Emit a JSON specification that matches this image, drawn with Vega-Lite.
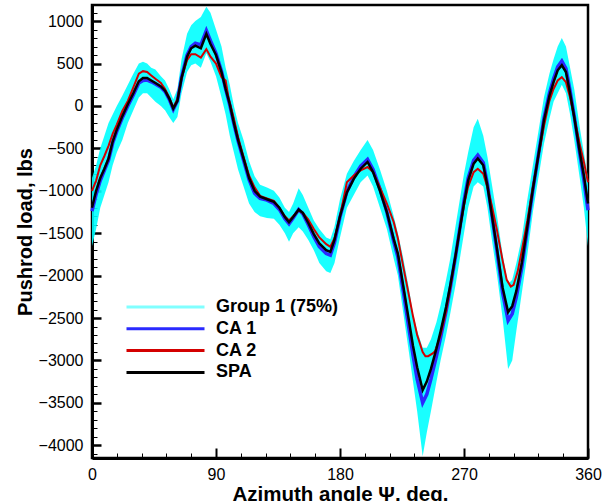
{
  "$schema": "https://vega.github.io/schema/vega-lite/v6.json",
  "width": 496,
  "height": 453,
  "autosize": {"type": "none"},
  "padding": {"left": 92, "top": 5, "right": 26, "bottom": 43},
  "background": "white",
  "config": {
    "font": "Liberation Sans",
    "view": {"stroke": "black", "strokeWidth": 2.5},
    "axis": {
      "labelFont": "Liberation Sans", "labelFontSize": 16, "labelColor": "black",
      "titleFont": "Liberation Sans", "titleFontWeight": "bold", "titleColor": "black",
      "domainColor": "black", "domainWidth": 3, "tickColor": "black", "grid": false,
      "labelOverlap": false, "labelFlush": false, "zindex": 1
    },
    "legend": {
      "orient": "none", "legendX": 33, "legendY": 294, "title": null,
      "labelFont": "Liberation Sans", "labelFontSize": 18, "labelFontWeight": "bold", "labelColor": "black",
      "symbolType": "stroke", "symbolSize": 6084, "symbolStrokeWidth": 3,
      "clipHeight": 16, "rowPadding": 3.8, "labelOffset": 10, "padding": 0
    }
  },
  "datasets": {
    "band": [
      {"deg":0,"hi":-850,"lo":-1650},{"deg":3,"hi":-700,"lo":-1450},{"deg":6,"hi":-500,"lo":-1200},{"deg":9,"hi":-350,"lo":-1050},
      {"deg":12,"hi":-200,"lo":-900},{"deg":15,"hi":-100,"lo":-700},{"deg":18,"hi":0,"lo":-550},{"deg":22,"hi":120,"lo":-400},
      {"deg":26,"hi":250,"lo":-200},{"deg":30,"hi":380,"lo":-50},{"deg":34,"hi":500,"lo":100},{"deg":37,"hi":520,"lo":150},
      {"deg":40,"hi":500,"lo":150},{"deg":43,"hi":450,"lo":100},{"deg":46,"hi":430,"lo":50},{"deg":50,"hi":350,"lo":0},
      {"deg":53,"hi":300,"lo":-50},{"deg":56,"hi":200,"lo":-130},{"deg":59,"hi":80,"lo":-200},{"deg":62,"hi":200,"lo":-130},
      {"deg":65,"hi":550,"lo":150},{"deg":69,"hi":850,"lo":400},{"deg":72,"hi":950,"lo":480},{"deg":75,"hi":1000,"lo":500},
      {"deg":79,"hi":1050,"lo":450},{"deg":83,"hi":1170,"lo":620},{"deg":86,"hi":1100,"lo":520},{"deg":90,"hi":900,"lo":350},
      {"deg":94,"hi":700,"lo":100},{"deg":97,"hi":450,"lo":-100},{"deg":100,"hi":250,"lo":-350},{"deg":103,"hi":0,"lo":-550},
      {"deg":106,"hi":-200,"lo":-750},{"deg":110,"hi":-400,"lo":-950},{"deg":114,"hi":-650,"lo":-1150},{"deg":118,"hi":-830,"lo":-1250},
      {"deg":122,"hi":-930,"lo":-1300},{"deg":127,"hi":-960,"lo":-1320},{"deg":132,"hi":-1000,"lo":-1330},{"deg":136,"hi":-1080,"lo":-1400},
      {"deg":140,"hi":-1200,"lo":-1500},{"deg":143,"hi":-1250,"lo":-1600},{"deg":146,"hi":-1150,"lo":-1500},{"deg":150,"hi":-970,"lo":-1430},
      {"deg":153,"hi":-1050,"lo":-1480},{"deg":157,"hi":-1200,"lo":-1580},{"deg":161,"hi":-1350,"lo":-1700},{"deg":165,"hi":-1450,"lo":-1850},
      {"deg":170,"hi":-1550,"lo":-1950},{"deg":173,"hi":-1570,"lo":-1970},{"deg":176,"hi":-1420,"lo":-1850},{"deg":180,"hi":-1100,"lo":-1550},
      {"deg":185,"hi":-800,"lo":-1200},{"deg":190,"hi":-650,"lo":-1050},{"deg":195,"hi":-520,"lo":-900},{"deg":200,"hi":-400,"lo":-820},
      {"deg":204,"hi":-520,"lo":-950},{"deg":209,"hi":-750,"lo":-1200},{"deg":214,"hi":-1000,"lo":-1450},{"deg":219,"hi":-1300,"lo":-1800},
      {"deg":222,"hi":-1500,"lo":-2000},{"deg":226,"hi":-1800,"lo":-2450},{"deg":230,"hi":-2150,"lo":-2900},{"deg":233,"hi":-2450,"lo":-3250},
      {"deg":236,"hi":-2650,"lo":-3600},{"deg":240,"hi":-2850,"lo":-4130},{"deg":243,"hi":-2850,"lo":-3850},{"deg":246,"hi":-2750,"lo":-3600},
      {"deg":250,"hi":-2550,"lo":-3250},{"deg":253,"hi":-2350,"lo":-3000},{"deg":257,"hi":-2050,"lo":-2700},{"deg":260,"hi":-1800,"lo":-2450},
      {"deg":264,"hi":-1400,"lo":-2100},{"deg":267,"hi":-1100,"lo":-1800},{"deg":270,"hi":-800,"lo":-1500},{"deg":273,"hi":-550,"lo":-1200},
      {"deg":277,"hi":-250,"lo":-950},{"deg":280,"hi":-150,"lo":-900},{"deg":284,"hi":-350,"lo":-950},{"deg":287,"hi":-600,"lo":-1200},
      {"deg":290,"hi":-900,"lo":-1550},{"deg":294,"hi":-1300,"lo":-2000},{"deg":298,"hi":-1750,"lo":-2500},{"deg":302,"hi":-2100,"lo":-3100},
      {"deg":305,"hi":-2050,"lo":-3000},{"deg":308,"hi":-1850,"lo":-2650},{"deg":312,"hi":-1550,"lo":-2200},{"deg":316,"hi":-1100,"lo":-1750},
      {"deg":320,"hi":-700,"lo":-1250},{"deg":323,"hi":-400,"lo":-950},{"deg":326,"hi":-100,"lo":-650},{"deg":328,"hi":100,"lo":-450},
      {"deg":332,"hi":380,"lo":-150},{"deg":335,"hi":550,"lo":50},{"deg":338,"hi":700,"lo":150},{"deg":341,"hi":800,"lo":250},
      {"deg":344,"hi":700,"lo":150},{"deg":347,"hi":450,"lo":-100},{"deg":350,"hi":200,"lo":-400},{"deg":354,"hi":-250,"lo":-850},
      {"deg":357,"hi":-550,"lo":-1200},{"deg":360,"hi":-850,"lo":-1650}
    ],
    "curves": [
      {"series":"CA 1","deg":0,"load":-1240},{"series":"CA 1","deg":3,"load":-1040},{"series":"CA 1","deg":6,"load":-880},{"series":"CA 1","deg":9,"load":-760},
      {"series":"CA 1","deg":12,"load":-640},{"series":"CA 1","deg":15,"load":-440},{"series":"CA 1","deg":18,"load":-300},{"series":"CA 1","deg":22,"load":-140},
      {"series":"CA 1","deg":26,"load":0},{"series":"CA 1","deg":30,"load":130},{"series":"CA 1","deg":34,"load":270},{"series":"CA 1","deg":37,"load":300},
      {"series":"CA 1","deg":40,"load":305},{"series":"CA 1","deg":43,"load":285},{"series":"CA 1","deg":46,"load":260},{"series":"CA 1","deg":50,"load":220},
      {"series":"CA 1","deg":53,"load":170},{"series":"CA 1","deg":56,"load":80},{"series":"CA 1","deg":59,"load":-40},{"series":"CA 1","deg":62,"load":60},
      {"series":"CA 1","deg":65,"load":340},{"series":"CA 1","deg":69,"load":600},{"series":"CA 1","deg":72,"load":700},{"series":"CA 1","deg":75,"load":740},
      {"series":"CA 1","deg":79,"load":720},{"series":"CA 1","deg":83,"load":890},{"series":"CA 1","deg":86,"load":770},{"series":"CA 1","deg":90,"load":620},
      {"series":"CA 1","deg":94,"load":410},{"series":"CA 1","deg":97,"load":200},{"series":"CA 1","deg":100,"load":10},{"series":"CA 1","deg":103,"load":-210},
      {"series":"CA 1","deg":106,"load":-410},{"series":"CA 1","deg":110,"load":-640},{"series":"CA 1","deg":114,"load":-870},{"series":"CA 1","deg":118,"load":-1030},
      {"series":"CA 1","deg":122,"load":-1090},{"series":"CA 1","deg":127,"load":-1110},{"series":"CA 1","deg":132,"load":-1150},{"series":"CA 1","deg":136,"load":-1220},
      {"series":"CA 1","deg":140,"load":-1330},{"series":"CA 1","deg":143,"load":-1390},{"series":"CA 1","deg":146,"load":-1320},{"series":"CA 1","deg":150,"load":-1220},
      {"series":"CA 1","deg":153,"load":-1270},{"series":"CA 1","deg":157,"load":-1400},{"series":"CA 1","deg":161,"load":-1540},{"series":"CA 1","deg":165,"load":-1660},
      {"series":"CA 1","deg":170,"load":-1740},{"series":"CA 1","deg":173,"load":-1760},{"series":"CA 1","deg":176,"load":-1610},{"series":"CA 1","deg":180,"load":-1310},
      {"series":"CA 1","deg":185,"load":-1010},{"series":"CA 1","deg":190,"load":-840},{"series":"CA 1","deg":195,"load":-710},{"series":"CA 1","deg":200,"load":-630},
      {"series":"CA 1","deg":204,"load":-750},{"series":"CA 1","deg":209,"load":-980},{"series":"CA 1","deg":214,"load":-1250},{"series":"CA 1","deg":219,"load":-1600},
      {"series":"CA 1","deg":222,"load":-1780},{"series":"CA 1","deg":226,"load":-2190},{"series":"CA 1","deg":230,"load":-2620},{"series":"CA 1","deg":233,"load":-2940},
      {"series":"CA 1","deg":236,"load":-3220},{"series":"CA 1","deg":240,"load":-3500},{"series":"CA 1","deg":243,"load":-3400},{"series":"CA 1","deg":246,"load":-3220},
      {"series":"CA 1","deg":250,"load":-2950},{"series":"CA 1","deg":253,"load":-2730},{"series":"CA 1","deg":257,"load":-2420},{"series":"CA 1","deg":260,"load":-2150},
      {"series":"CA 1","deg":264,"load":-1760},{"series":"CA 1","deg":267,"load":-1440},{"series":"CA 1","deg":270,"load":-1120},{"series":"CA 1","deg":273,"load":-850},
      {"series":"CA 1","deg":277,"load":-640},{"series":"CA 1","deg":280,"load":-580},{"series":"CA 1","deg":284,"load":-670},{"series":"CA 1","deg":287,"load":-920},
      {"series":"CA 1","deg":290,"load":-1260},{"series":"CA 1","deg":294,"load":-1720},{"series":"CA 1","deg":298,"load":-2200},{"series":"CA 1","deg":302,"load":-2530},
      {"series":"CA 1","deg":305,"load":-2450},{"series":"CA 1","deg":308,"load":-2250},{"series":"CA 1","deg":312,"load":-1900},{"series":"CA 1","deg":316,"load":-1450},
      {"series":"CA 1","deg":320,"load":-990},{"series":"CA 1","deg":323,"load":-680},{"series":"CA 1","deg":326,"load":-370},{"series":"CA 1","deg":328,"load":-150},
      {"series":"CA 1","deg":332,"load":150},{"series":"CA 1","deg":335,"load":320},{"series":"CA 1","deg":338,"load":460},{"series":"CA 1","deg":341,"load":530},
      {"series":"CA 1","deg":344,"load":440},{"series":"CA 1","deg":347,"load":180},{"series":"CA 1","deg":350,"load":-120},{"series":"CA 1","deg":354,"load":-560},
      {"series":"CA 1","deg":357,"load":-870},{"series":"CA 1","deg":360,"load":-1230},

      {"series":"CA 2","deg":0,"load":-1000},{"series":"CA 2","deg":3,"load":-880},{"series":"CA 2","deg":6,"load":-700},{"series":"CA 2","deg":9,"load":-590},
      {"series":"CA 2","deg":12,"load":-470},{"series":"CA 2","deg":15,"load":-330},{"series":"CA 2","deg":18,"load":-220},{"series":"CA 2","deg":22,"load":-60},
      {"series":"CA 2","deg":26,"load":60},{"series":"CA 2","deg":30,"load":220},{"series":"CA 2","deg":34,"load":380},{"series":"CA 2","deg":37,"load":410},
      {"series":"CA 2","deg":40,"load":400},{"series":"CA 2","deg":43,"load":360},{"series":"CA 2","deg":46,"load":320},{"series":"CA 2","deg":50,"load":270},
      {"series":"CA 2","deg":53,"load":200},{"series":"CA 2","deg":56,"load":100},{"series":"CA 2","deg":59,"load":-20},{"series":"CA 2","deg":62,"load":80},
      {"series":"CA 2","deg":65,"load":330},{"series":"CA 2","deg":69,"load":540},{"series":"CA 2","deg":72,"load":610},{"series":"CA 2","deg":75,"load":610},
      {"series":"CA 2","deg":79,"load":570},{"series":"CA 2","deg":83,"load":670},{"series":"CA 2","deg":86,"load":580},{"series":"CA 2","deg":90,"load":500},
      {"series":"CA 2","deg":94,"load":340},{"series":"CA 2","deg":97,"load":300},{"series":"CA 2","deg":99,"load":100},{"series":"CA 2","deg":103,"load":-150},
      {"series":"CA 2","deg":106,"load":-370},{"series":"CA 2","deg":110,"load":-600},{"series":"CA 2","deg":114,"load":-820},{"series":"CA 2","deg":118,"load":-960},
      {"series":"CA 2","deg":122,"load":-1060},{"series":"CA 2","deg":127,"load":-1090},{"series":"CA 2","deg":132,"load":-1120},{"series":"CA 2","deg":136,"load":-1200},
      {"series":"CA 2","deg":140,"load":-1300},{"series":"CA 2","deg":143,"load":-1350},{"series":"CA 2","deg":146,"load":-1300},{"series":"CA 2","deg":150,"load":-1230},
      {"series":"CA 2","deg":153,"load":-1260},{"series":"CA 2","deg":157,"load":-1340},{"series":"CA 2","deg":161,"load":-1450},{"series":"CA 2","deg":165,"load":-1550},
      {"series":"CA 2","deg":170,"load":-1630},{"series":"CA 2","deg":173,"load":-1660},{"series":"CA 2","deg":176,"load":-1560},{"series":"CA 2","deg":180,"load":-1300},
      {"series":"CA 2","deg":185,"load":-900},{"series":"CA 2","deg":190,"load":-820},{"series":"CA 2","deg":195,"load":-760},{"series":"CA 2","deg":200,"load":-720},
      {"series":"CA 2","deg":204,"load":-780},{"series":"CA 2","deg":209,"load":-960},{"series":"CA 2","deg":214,"load":-1150},{"series":"CA 2","deg":219,"load":-1370},
      {"series":"CA 2","deg":222,"load":-1560},{"series":"CA 2","deg":226,"load":-1900},{"series":"CA 2","deg":230,"load":-2230},{"series":"CA 2","deg":233,"load":-2480},
      {"series":"CA 2","deg":236,"load":-2700},{"series":"CA 2","deg":240,"load":-2900},{"series":"CA 2","deg":242,"load":-2950},{"series":"CA 2","deg":244,"load":-2950},
      {"series":"CA 2","deg":247,"load":-2920},{"series":"CA 2","deg":249,"load":-2890},{"series":"CA 2","deg":253,"load":-2700},{"series":"CA 2","deg":257,"load":-2420},
      {"series":"CA 2","deg":260,"load":-2150},{"series":"CA 2","deg":264,"load":-1750},{"series":"CA 2","deg":267,"load":-1450},{"series":"CA 2","deg":270,"load":-1170},
      {"series":"CA 2","deg":273,"load":-950},{"series":"CA 2","deg":277,"load":-780},{"series":"CA 2","deg":280,"load":-740},{"series":"CA 2","deg":284,"load":-800},
      {"series":"CA 2","deg":287,"load":-960},{"series":"CA 2","deg":290,"load":-1160},{"series":"CA 2","deg":294,"load":-1470},{"series":"CA 2","deg":298,"load":-1820},
      {"series":"CA 2","deg":301,"load":-2050},{"series":"CA 2","deg":304,"load":-2130},{"series":"CA 2","deg":306,"load":-2110},{"series":"CA 2","deg":309,"load":-1950},
      {"series":"CA 2","deg":312,"load":-1700},{"series":"CA 2","deg":316,"load":-1350},{"series":"CA 2","deg":320,"load":-950},{"series":"CA 2","deg":323,"load":-680},
      {"series":"CA 2","deg":326,"load":-420},{"series":"CA 2","deg":328,"load":-240},{"series":"CA 2","deg":332,"load":60},{"series":"CA 2","deg":335,"load":200},
      {"series":"CA 2","deg":338,"load":300},{"series":"CA 2","deg":341,"load":340},{"series":"CA 2","deg":344,"load":280},{"series":"CA 2","deg":347,"load":100},
      {"series":"CA 2","deg":350,"load":-130},{"series":"CA 2","deg":354,"load":-450},{"series":"CA 2","deg":357,"load":-660},{"series":"CA 2","deg":360,"load":-900},

      {"series":"SPA","deg":0,"load":-1200},{"series":"SPA","deg":3,"load":-1000},{"series":"SPA","deg":6,"load":-850},{"series":"SPA","deg":9,"load":-740},
      {"series":"SPA","deg":12,"load":-620},{"series":"SPA","deg":15,"load":-420},{"series":"SPA","deg":18,"load":-280},{"series":"SPA","deg":22,"load":-120},
      {"series":"SPA","deg":26,"load":20},{"series":"SPA","deg":30,"load":150},{"series":"SPA","deg":34,"load":290},{"series":"SPA","deg":37,"load":330},
      {"series":"SPA","deg":40,"load":330},{"series":"SPA","deg":43,"load":300},{"series":"SPA","deg":46,"load":270},{"series":"SPA","deg":50,"load":230},
      {"series":"SPA","deg":53,"load":180},{"series":"SPA","deg":56,"load":90},{"series":"SPA","deg":59,"load":-30},{"series":"SPA","deg":62,"load":60},
      {"series":"SPA","deg":65,"load":330},{"series":"SPA","deg":69,"load":580},{"series":"SPA","deg":72,"load":680},{"series":"SPA","deg":75,"load":710},
      {"series":"SPA","deg":79,"load":680},{"series":"SPA","deg":83,"load":850},{"series":"SPA","deg":86,"load":730},{"series":"SPA","deg":90,"load":600},
      {"series":"SPA","deg":94,"load":400},{"series":"SPA","deg":97,"load":200},{"series":"SPA","deg":100,"load":20},{"series":"SPA","deg":103,"load":-200},
      {"series":"SPA","deg":106,"load":-400},{"series":"SPA","deg":110,"load":-620},{"series":"SPA","deg":114,"load":-850},{"series":"SPA","deg":118,"load":-1000},
      {"series":"SPA","deg":122,"load":-1070},{"series":"SPA","deg":127,"load":-1100},{"series":"SPA","deg":132,"load":-1130},{"series":"SPA","deg":136,"load":-1200},
      {"series":"SPA","deg":140,"load":-1310},{"series":"SPA","deg":143,"load":-1370},{"series":"SPA","deg":146,"load":-1310},{"series":"SPA","deg":150,"load":-1220},
      {"series":"SPA","deg":153,"load":-1260},{"series":"SPA","deg":157,"load":-1380},{"series":"SPA","deg":161,"load":-1510},{"series":"SPA","deg":165,"load":-1620},
      {"series":"SPA","deg":170,"load":-1700},{"series":"SPA","deg":173,"load":-1720},{"series":"SPA","deg":176,"load":-1580},{"series":"SPA","deg":180,"load":-1300},
      {"series":"SPA","deg":185,"load":-1020},{"series":"SPA","deg":190,"load":-860},{"series":"SPA","deg":195,"load":-740},{"series":"SPA","deg":200,"load":-660},
      {"series":"SPA","deg":204,"load":-780},{"series":"SPA","deg":209,"load":-1000},{"series":"SPA","deg":214,"load":-1250},{"series":"SPA","deg":219,"load":-1570},
      {"series":"SPA","deg":222,"load":-1740},{"series":"SPA","deg":226,"load":-2130},{"series":"SPA","deg":230,"load":-2530},{"series":"SPA","deg":233,"load":-2830},
      {"series":"SPA","deg":236,"load":-3080},{"series":"SPA","deg":240,"load":-3350},{"series":"SPA","deg":243,"load":-3250},{"series":"SPA","deg":246,"load":-3100},
      {"series":"SPA","deg":250,"load":-2860},{"series":"SPA","deg":253,"load":-2660},{"series":"SPA","deg":257,"load":-2370},{"series":"SPA","deg":260,"load":-2120},
      {"series":"SPA","deg":264,"load":-1750},{"series":"SPA","deg":267,"load":-1450},{"series":"SPA","deg":270,"load":-1150},{"series":"SPA","deg":273,"load":-880},
      {"series":"SPA","deg":277,"load":-680},{"series":"SPA","deg":280,"load":-620},{"series":"SPA","deg":284,"load":-700},{"series":"SPA","deg":287,"load":-940},
      {"series":"SPA","deg":290,"load":-1260},{"series":"SPA","deg":294,"load":-1690},{"series":"SPA","deg":298,"load":-2140},{"series":"SPA","deg":302,"load":-2430},
      {"series":"SPA","deg":305,"load":-2360},{"series":"SPA","deg":308,"load":-2180},{"series":"SPA","deg":312,"load":-1850},{"series":"SPA","deg":316,"load":-1420},
      {"series":"SPA","deg":320,"load":-980},{"series":"SPA","deg":323,"load":-680},{"series":"SPA","deg":326,"load":-380},{"series":"SPA","deg":328,"load":-170},
      {"series":"SPA","deg":332,"load":120},{"series":"SPA","deg":335,"load":280},{"series":"SPA","deg":338,"load":420},{"series":"SPA","deg":341,"load":480},
      {"series":"SPA","deg":344,"load":400},{"series":"SPA","deg":347,"load":150},{"series":"SPA","deg":350,"load":-130},{"series":"SPA","deg":354,"load":-540},
      {"series":"SPA","deg":357,"load":-820},{"series":"SPA","deg":360,"load":-1150}
    ]
  },
  "resolve": {"axis": {"x": "independent", "y": "independent"}},
  "layer": [
    {
      "data": {"name": "band"},
      "mark": {"type": "area", "color": "#00FFFF", "opacity": 0.9},
      "encoding": {
        "x": {"field": "deg", "type": "quantitative",
          "scale": {"domain": [0, 360], "nice": false, "zero": false},
          "axis": {
            "orient": "bottom",
            "title": "Azimuth angle Ψ, deg.", "titleFontSize": 20.5, "titlePadding": 2,
            "values": [0, 90, 180, 270, 360],
            "tickSize": -10, "tickWidth": 2, "labelPadding": 18
          }
        },
        "y": {"field": "hi", "type": "quantitative",
          "scale": {"domain": [-4150, 1190], "nice": false, "zero": false},
          "axis": {
            "orient": "left",
            "title": "Pushrod load, lbs", "titleFontSize": 20, "titlePadding": 3,
            "values": [-4000, -3500, -3000, -2500, -2000, -1500, -1000, -500, 0, 500, 1000],
            "format": "d",
            "tickSize": -9, "tickWidth": 2.5, "labelPadding": 18
          }
        },
        "y2": {"field": "lo"}
      }
    },
    {
      "data": {"name": "curves"},
      "transform": [{"filter": "datum.series === 'CA 1'"}],
      "mark": {"type": "line", "strokeWidth": 3.5},
      "encoding": {
        "x": {"field": "deg", "type": "quantitative",
          "axis": {"orient": "bottom", "title": null, "labels": false, "domain": false,
            "values": [18,36,54,72,108,126,144,162,198,216,234,252,288,306,324,342],
            "tickSize": -5, "tickWidth": 1}},
        "y": {"field": "load", "type": "quantitative",
          "axis": {"orient": "left", "title": null, "labels": false, "domain": false,
            "values": [-4100,-3900,-3800,-3700,-3600,-3400,-3300,-3200,-3100,-2900,-2800,-2700,-2600,-2400,-2300,-2200,-2100,-1900,-1800,-1700,-1600,-1400,-1300,-1200,-1100,-900,-800,-700,-600,-400,-300,-200,-100,100,200,300,400,600,700,800,900,1100],
            "tickSize": -5, "tickWidth": 1}},
        "color": {"field": "series", "type": "nominal",
          "scale": {"domain": ["Group 1 (75%)", "CA 1", "CA 2", "SPA"], "range": ["#80FFFF", "#2a2aff", "#d40000", "#000000"]},
          "legend": {}}
      }
    },
    {
      "data": {"name": "curves"},
      "transform": [{"filter": "datum.series === 'CA 2'"}],
      "mark": {"type": "line", "strokeWidth": 2},
      "encoding": {
        "x": {"field": "deg", "type": "quantitative", "axis": null},
        "y": {"field": "load", "type": "quantitative", "axis": null},
        "color": {"field": "series", "type": "nominal"}
      }
    },
    {
      "data": {"name": "curves"},
      "transform": [{"filter": "datum.series === 'SPA'"}],
      "mark": {"type": "line", "strokeWidth": 2.5},
      "encoding": {
        "x": {"field": "deg", "type": "quantitative", "axis": null},
        "y": {"field": "load", "type": "quantitative", "axis": null},
        "color": {"field": "series", "type": "nominal"}
      }
    }
  ]
}
